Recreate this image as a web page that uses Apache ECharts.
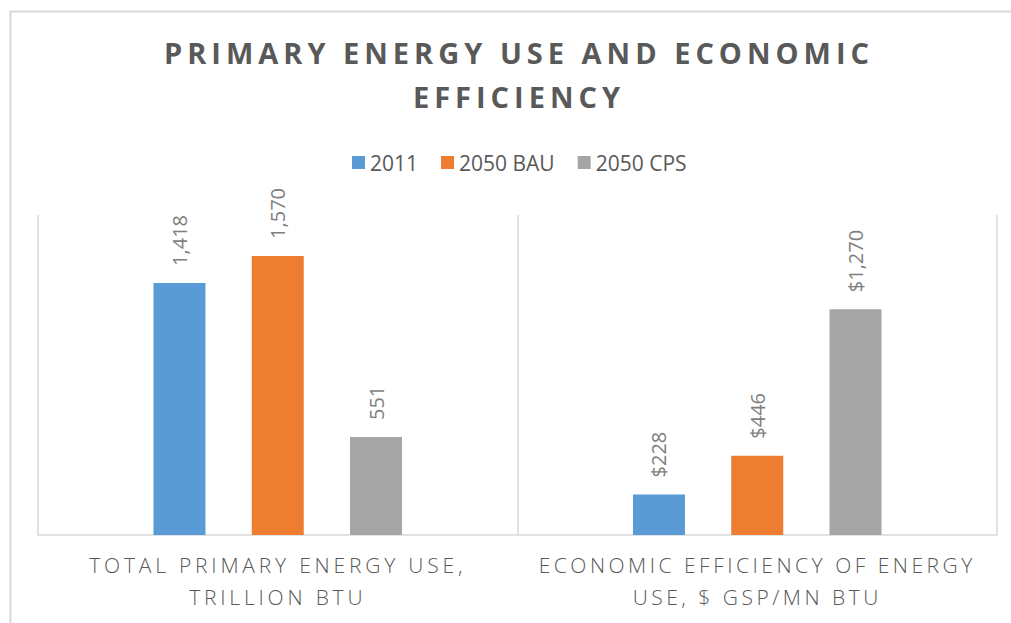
<!DOCTYPE html>
<html>
<head>
<meta charset="utf-8">
<script src="https://cdn.jsdelivr.net/npm/echarts@6/dist/echarts.min.js"></script>
<style>
  html, body { margin: 0; padding: 0; background: #fff; }
  #chart { width: 1011px; height: 623px; }
</style>
</head>
<body>
<div id="chart"></div>
<script>
  // categories and series
  var categories = ['TOTAL PRIMARY ENERGY USE,\nTRILLION BTU', 'ECONOMIC EFFICIENCY OF ENERGY\nUSE, $ GSP/MN BTU'];
  var seriesNames = ['2011', '2050 BAU', '2050 CPS'];
  var values2011 = [1418, 228];
  var valuesBau = [1570, 446];
  var valuesCps = [551, 1270];
  // the second category is shown in dollars
  var labelPrefix = ['', '$'];

  var colors = ['#5b9bd5', '#ed7d31', '#a5a5a5'];
  var fontFamily = '"Open Sans", sans-serif';

  var chart = echarts.init(document.getElementById('chart'), null, {renderer: 'svg'});

  function makeSeries(name, data, color) {
    return {
      name: name,
      type: 'bar',
      data: data,
      barWidth: 52,
      barGap: '89%',
      itemStyle: {color: color},
      label: {
        show: true,
        position: 'top',
        rotate: 90,
        align: 'left',
        verticalAlign: 'middle',
        distance: 17,
        color: '#7f7f7f',
        fontFamily: fontFamily,
        fontSize: 20,
        formatter: function (p) {
          return labelPrefix[p.dataIndex] + p.value.toLocaleString('en-US');
        },
      },
    };
  }

  var option = {
    animation: false,
    backgroundColor: '#fff',
    title: {
      text: 'PRIMARY ENERGY USE AND ECONOMIC\nEFFICIENCY',
      left: 514,
      textAlign: 'center',
      top: 25,
      textStyle: {
        color: '#595959',
        fontFamily: fontFamily,
        fontWeight: 'bold',
        fontSize: 29,
        lineHeight: 44,
      },
    },
    legend: {
      data: seriesNames,
      top: 147,
      left: 347,
      icon: 'rect',
      itemWidth: 13,
      itemHeight: 13,
      itemGap: 23,
      textStyle: {
        color: '#595959',
        fontFamily: fontFamily,
        fontSize: 21,
      },
    },
    grid: {
      left: 38,
      right: 14,
      top: 215,
      bottom: 88,
    },
    xAxis: {
      type: 'category',
      data: categories,
      axisTick: {show: false},
      axisLine: {lineStyle: {color: '#d9d9d9', width: 1.5}},
      splitLine: {show: true, lineStyle: {color: '#d9d9d9', width: 1.5}},
      axisLabel: {
        color: '#595959',
        fontFamily: fontFamily,
        fontSize: 21,
        fontWeight: 300,
        lineHeight: 32,
        margin: 14,
      },
    },
    yAxis: {
      type: 'value',
      min: 0,
      max: 1800,
      show: false,
    },
    graphic: [{
      type: 'rect',
      left: 8,
      top: 9,
      shape: {width: 1100, height: 700},
      style: {fill: 'none', stroke: '#d9d9d9', lineWidth: 2},
      silent: true,
    }],
    series: [
      makeSeries(seriesNames[0], values2011, colors[0]),
      makeSeries(seriesNames[1], valuesBau, colors[1]),
      makeSeries(seriesNames[2], valuesCps, colors[2]),
    ],
  };

  // spaced capitals, as in the original
  var spacing = [
    ['PRIMARY ENERGY', 5],
    ['EFFICIENCY', 5],
    ['TOTAL PRIMARY', 3.8],
    ['TRILLION', 3.8],
    ['ECONOMIC EFFICIENCY', 3.5],
    ['USE, $', 3.5],
  ];
  function applySpacing() {
    var nodes = chart.getDom().querySelectorAll('text');
    nodes.forEach(function (t) {
      var s = t.textContent;
      spacing.forEach(function (rule) {
        if (s.indexOf(rule[0]) === 0) {
          t.setAttribute('letter-spacing', rule[1]);
        }
      });
    });
  }
  chart.on('finished', applySpacing);
  chart.setOption(option);
  setTimeout(applySpacing, 50);
</script>
</body>
</html>
